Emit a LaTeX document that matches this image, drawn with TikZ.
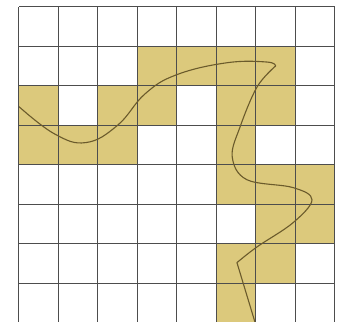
\documentclass[tikz,border=0pt]{standalone}
\usepackage{tikz}
\definecolor{cellsand}{HTML}{DCC97C}
\definecolor{curvebrown}{HTML}{6B5B2C}
\definecolor{gridgray}{HTML}{4D4D4D}

\begin{document}
\begin{tikzpicture}
    \useasboundingbox (-0.48,0.03) rectangle (8.18,8.17);
    % Shaded cells (column, row from bottom)
    \foreach \c/\r in {3/6,4/6,5/6,6/6, 0/5,2/5,3/5,5/5,6/5, 0/4,1/4,2/4,5/4,
                       5/3,6/3,7/3, 6/2,7/2, 5/1,6/1, 5/0}
        \fill[cellsand] (\c,\r) rectangle ++(1,1);
    % Grid
    \draw[gridgray, line width=0.75pt] (0,0) grid (8,8);
    % Curve
    \draw[curvebrown, line width=0.8pt, line join=round]
        plot[smooth, tension=0.7] coordinates {(0,5.47) (0.9,4.78) (1.7,4.56)
            (2.5,5.0) (3.2,5.8) (4.0,6.28) (5.26,6.58) (6.27,6.6) (6.5,6.5)}
        -- plot[smooth, tension=0.6] coordinates {(6.5,6.5) (6.03,5.97) (5.6,4.96) (5.4,4.2)
            (5.77,3.62) (6.94,3.42) (7.42,3.11) (6.94,2.53) (6.03,1.92) (5.52,1.52)}
        -- (5.98,0);
\end{tikzpicture}
\end{document}
